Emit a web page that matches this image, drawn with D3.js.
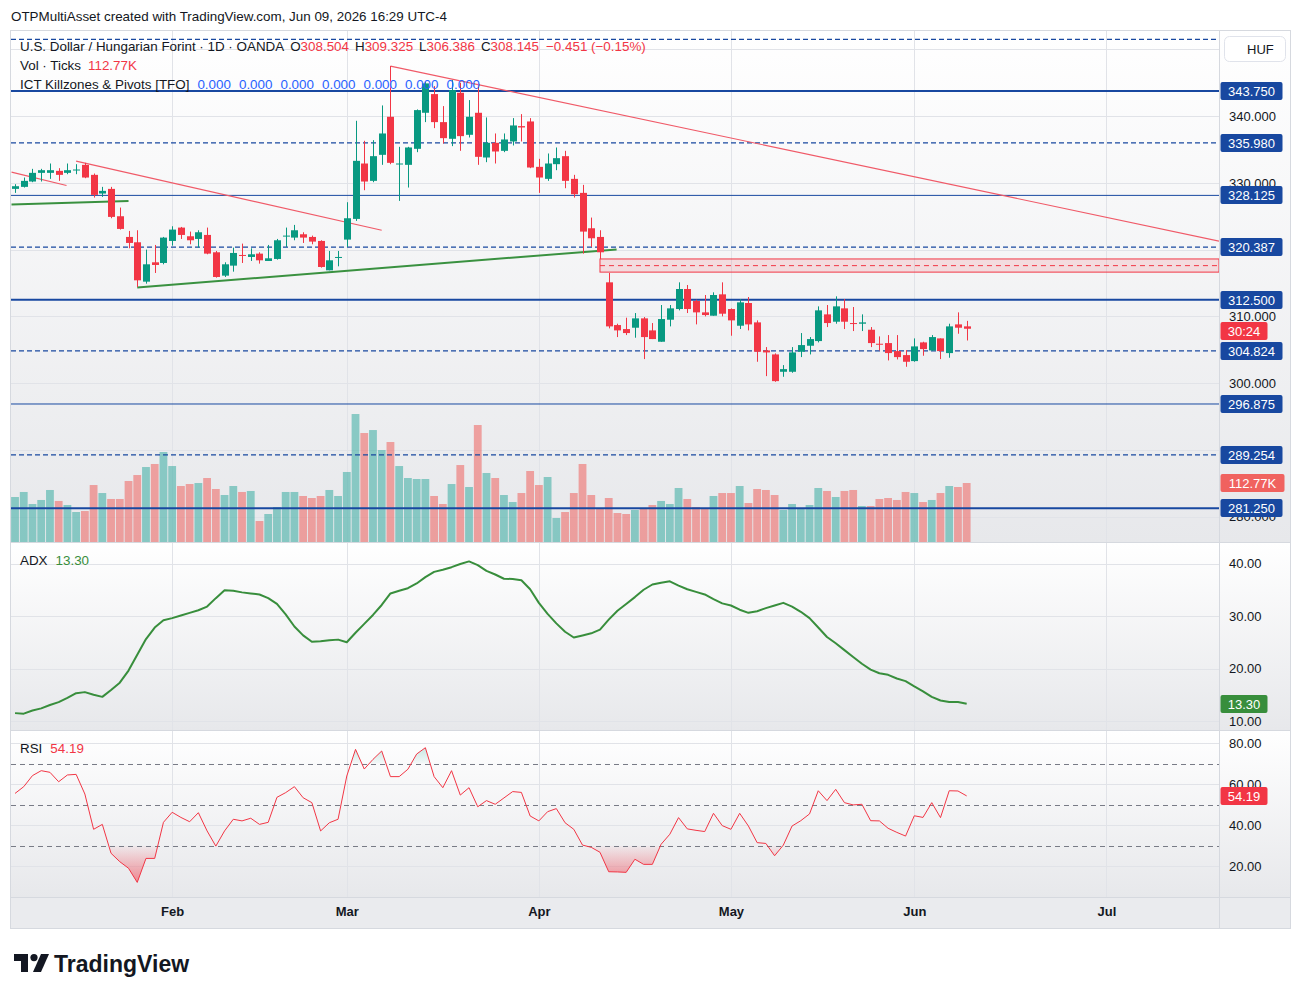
<!DOCTYPE html>
<html>
<head>
<meta charset="utf-8">
<title>USDHUF 1D</title>
<script src="https://cdn.jsdelivr.net/npm/d3@7"></script>
<style>
html,body{margin:0;padding:0;background:#ffffff;}
svg{display:block;font-family:"Liberation Sans",Arial,sans-serif;}
</style>
</head>
<body>
<svg id="chart" width="1302" height="997"></svg>
<script>
// ---- daily bars, Jan 07 2026 .. Jun 09 2026 (trading days) ----
var open  = [329.1,329.4,330.2,331.5,331.5,331.8,331.5,331.9,332.7,331.2,328.4,329.1,325.0,321.9,321.1,315.2,318.1,318.0,321.3,323.3,
             322.0,321.6,322.2,319.6,316.1,317.6,319.2,318.9,319.4,318.3,318.6,322.0,321.8,322.3,321.9,321.3,316.9,318.8,321.5,324.6,
             332.9,330.3,334.2,339.9,332.8,332.7,335.1,340.5,343.3,339.1,336.6,343.5,337.2,340.5,333.8,336.0,334.8,336.2,338.5,339.2,
             332.4,330.6,332.8,334.0,330.6,328.5,323.2,321.9,315.1,308.7,308.1,308.3,309.7,307.9,306.2,309.5,311.1,314.1,312.3,310.6,
             310.1,313.3,311.1,308.6,312.0,309.1,304.9,304.3,301.7,301.7,304.7,305.6,306.3,310.3,309.2,311.2,309.0,308.9,308.0,305.9,
             306.0,304.8,304.2,303.3,306.1,304.9,306.7,304.5,308.8,308.504];
var high  = [329.8,330.8,332.1,332.1,332.9,332.2,332.9,332.8,333.0,331.4,329.4,329.4,326.3,322.8,322.9,320.0,320.7,321.9,323.5,323.4,
             322.7,322.9,323.3,319.8,318.1,320.3,320.9,320.2,319.6,320.7,321.6,323.3,323.7,322.6,322.1,321.4,319.8,319.8,327.1,339.3,
             336.3,336.4,341.6,347.5,335.4,335.4,341.0,345.1,344.5,341.5,345.4,345.0,342.4,344.9,339.8,337.4,337.4,339.7,340.3,339.7,
             333.6,334.4,335.3,334.8,331.2,329.7,324.8,322.9,316.5,308.9,309.8,310.5,309.9,309.0,311.7,311.7,315.1,314.7,312.5,313.2,
             313.6,315.1,311.2,312.6,312.9,309.4,305.4,304.45,302.7,305.4,307.5,306.9,311.5,311.7,313.0,312.6,311.4,310.3,308.4,307.0,
             307.2,307.2,304.95,306.7,306.2,307.2,306.7,308.9,310.6,309.325];
var low   = [328.5,329.3,330.1,330.2,330.6,330.3,331.3,331.3,330.7,327.8,327.9,324.7,323.0,320.2,314.4,314.9,316.5,317.8,320.6,321.6,
             320.8,320.3,319.3,315.8,315.9,316.7,318.0,318.3,317.9,318.3,318.5,320.4,321.4,321.0,320.8,317.3,316.9,317.5,320.4,324.3,
             328.9,330.1,332.7,332.8,327.3,329.3,334.6,339.1,338.2,335.9,335.5,334.8,336.8,332.7,333.1,332.9,334.6,335.6,336.2,332.2,
             328.5,330.3,331.9,329.2,327.8,319.4,320.4,318.6,308.2,306.9,307.2,306.8,303.6,306.6,306.2,308.5,310.9,310.5,308.8,310.0,
             310.1,310.0,307.1,308.1,307.9,303.2,301.05,300.2,300.95,301.55,303.9,304.3,306.1,308.4,308.9,308.1,307.8,307.8,305.4,304.9,
             303.4,303.55,302.45,303.2,304.1,304.85,303.6,303.8,307.4,306.386];
var close = [329.5,330.3,331.5,331.9,331.9,331.2,331.9,332.0,330.8,328.2,328.8,324.9,323.1,321.0,315.4,317.8,317.7,321.8,323.0,322.2,
             321.4,322.6,319.4,315.9,317.8,319.5,319.1,319.3,318.4,318.7,321.4,322.1,322.9,321.8,321.2,317.4,318.4,318.9,324.7,333.3,
             330.2,334.0,337.4,333.0,332.9,335.3,340.9,344.9,339.1,336.7,343.9,337.0,339.9,333.9,336.0,334.7,336.5,338.6,338.3,332.3,
             330.8,332.9,333.7,330.3,328.3,322.7,321.7,319.6,308.5,307.9,307.5,309.7,306.9,306.6,309.6,311.2,314.1,311.1,310.6,310.2,
             313.2,310.4,309.4,312.1,308.8,304.7,304.6,300.3,302.1,304.6,305.7,306.6,310.9,309.0,311.5,309.2,308.9,309.1,306.0,305.8,
             304.5,303.9,303.2,305.5,305.1,306.9,304.8,308.5,308.3,308.145];
// volume in thousands of ticks
var volume = [86.0,95.6,72.6,80.3,99.4,78.4,70.7,57.3,59.2,108.9,93.6,82.2,82.2,116.6,128.0,143.3,149.1,172.0,145.2,107.0,
              110.8,112.7,122.3,101.3,89.8,107.0,95.6,97.5,40.1,53.5,66.9,95.6,95.6,87.9,84.1,87.9,99.4,87.9,133.8,244.6,
              208.3,214.0,175.8,191.1,145.2,122.3,120.4,120.4,87.9,72.6,110.8,147.1,105.1,223.6,131.9,122.3,89.8,76.4,93.6,135.7,
              108.9,124.2,45.9,57.3,93.6,149.1,89.8,65.0,84.1,55.4,53.5,61.2,65.0,70.7,78.4,72.6,103.2,82.2,66.9,65.0,
              87.9,93.6,93.6,107.0,74.5,101.3,99.4,89.8,61.2,72.6,65.0,70.7,103.2,97.5,86.0,97.5,99.4,68.8,68.8,82.2,
              84.1,80.3,95.6,93.6,76.4,80.3,93.6,107.0,105.1,112.77];
var adx = [11.5,11.4,12.0,12.4,13.05,13.6,14.4,15.3,15.5,15.0,14.6,15.9,17.3,19.6,22.6,25.6,27.8,29.2,29.6,30.1,
           30.6,31.1,31.8,33.4,34.9,34.8,34.5,34.3,34.1,33.4,32.3,30.3,28.0,26.3,25.1,25.2,25.4,25.5,25.0,26.8,
           28.5,30.2,32.1,34.3,34.8,35.3,36.2,37.4,38.4,38.8,39.3,39.9,40.4,39.7,38.6,37.9,37.1,37.05,36.8,35.1,
           32.5,30.4,28.6,27.0,25.9,26.3,26.7,27.4,29.3,31.0,32.3,33.6,35.0,36.0,36.35,36.6,35.8,35.1,34.6,34.1,
           33.2,32.4,32.0,31.2,30.6,30.9,31.5,32.0,32.5,31.8,30.8,29.6,27.8,26.0,24.8,23.5,22.2,20.9,19.8,19.1,
           18.8,18.1,17.6,16.6,15.65,14.6,13.9,13.6,13.6,13.30];
var rsi = [55.4,58.7,64.1,66.5,65.7,61.1,64.4,64.7,55.1,37.9,40.3,26.2,22.1,18.9,12.0,23.7,23.7,41.3,46.2,43.7,
           41.6,46.0,37.1,29.7,37.1,42.8,42.0,43.3,40.3,41.3,53.5,55.8,58.7,53.3,50.9,37.1,41.1,42.8,63.9,76.9,
           67.3,72.0,76.1,63.6,63.6,67.2,74.6,77.7,63.6,58.2,66.5,54.6,58.2,48.9,51.9,50.1,53.2,56.3,55.9,44.4,
           42.0,46.5,48.0,41.1,37.9,30.2,29.1,26.7,17.2,17.1,16.9,23.3,20.8,20.8,30.6,35.5,43.6,38.1,37.4,36.8,
           45.7,39.7,37.9,45.7,39.5,31.4,31.0,25.0,30.2,39.5,42.1,45.4,56.7,51.9,57.4,50.9,49.8,50.1,42.1,42.0,
           38.4,36.4,34.6,44.5,43.7,50.9,43.6,56.7,56.6,54.19];

// pivot levels of the ICT indicator
var majorLevels  = [343.75, 312.5, 281.25];
var minorLevels  = [328.125, 296.875];
var dashedLevels = [351.5, 335.98, 320.387, 304.824, 289.254];
// drawings: [bar index, price]
var redTrends   = [[[43, 347.5], [137.9, 321.27]], [[7, 333.26], [42, 322.9]], [[-0.4, 331.6], [5.9, 329.6]]];
var greenTrends = [[[-0.4, 326.77], [13, 327.3]], [[14, 314.34], [68.9, 320.03]]];
var zoneStart = 67, zoneTop = 318.6, zoneMid = 317.6, zoneBottom = 316.63;

var priceGrid  = [280, 290, 300, 310, 320, 330, 340, 350];
var priceTicks = [280, 290, 300, 310, 330, 340];   // the others sit under level tags / the HUF button
var adxTicks = [10, 20, 30, 40];
var rsiTicks = [20, 40, 60, 80];
var rsiBands = [70, 50, 30];
var monthLabels = ["Feb", "Mar", "Apr", "May", "Jun", "Jul"];

// trading day calendar (Mon-Fri) starting at the first bar
var days = [];
(function(){
  var d = new Date(2026, 0, 7);
  while (days.length < 140) {
    var w = d.getDay();
    if (w !== 0 && w !== 6) days.push(new Date(d));
    d.setDate(d.getDate() + 1);
  }
})();
var fmtMonth = d3.timeFormat("%b");
var monthIdx = [];
days.forEach(function(d, i){
  if (i > 0 && d.getMonth() !== days[i-1].getMonth() && monthLabels.indexOf(fmtMonth(d)) >= 0) monthIdx.push(i);
});

var svg = d3.select("#chart");
var plotL = 11, plotR = 1219, axisR = 1290;
var mainTop = 30, mainBot = 542, adxTop = 543, adxBot = 730, rsiTop = 731, rsiBot = 897, timeBot = 928;
var UP = "#089981", DOWN = "#f23645", BLUE = "#1848a0", TXT = "#131722";
var LEG = 13.4;

var x  = d3.scaleLinear().domain([-0.46, 137.9]).range([plotL, plotR]);
var yP = d3.scaleLinear().domain([276.2, 352.9]).range([mainBot, mainTop]);
var yV = d3.scaleLinear().domain([0, 112.77]).range([mainBot, 483]);
var yA = d3.scaleLinear().domain([10, 40]).range([721, 563.5]);
var yR = d3.scaleLinear().domain([20, 80]).range([866, 743]);

var defs = svg.append("defs");
var bg = defs.append("linearGradient").attr("id", "paneBg").attr("x1", 0).attr("y1", 0).attr("x2", 0).attr("y2", 1);
bg.append("stop").attr("offset", "0%").attr("stop-color", "#ffffff");
bg.append("stop").attr("offset", "100%").attr("stop-color", "#e7e8eb");

function clip(id, y0, y1){
  defs.append("clipPath").attr("id", id).append("rect")
    .attr("x", plotL).attr("y", y0).attr("width", plotR - plotL).attr("height", y1 - y0);
}
clip("cMain", mainTop, mainBot);
clip("cAdx", adxTop, adxBot);
clip("cRsi", rsiTop, rsiBot);
clip("cOs", yR(30), rsiBot);
clip("cOb", rsiTop, yR(70));

var osGrad = defs.append("linearGradient").attr("id", "osGrad").attr("gradientUnits", "userSpaceOnUse")
  .attr("x1", 0).attr("x2", 0).attr("y1", yR(30)).attr("y2", yR(10));
osGrad.append("stop").attr("offset", "0%").attr("stop-color", DOWN).attr("stop-opacity", 0.03);
osGrad.append("stop").attr("offset", "100%").attr("stop-color", DOWN).attr("stop-opacity", 0.6);
var obGrad = defs.append("linearGradient").attr("id", "obGrad").attr("gradientUnits", "userSpaceOnUse")
  .attr("x1", 0).attr("x2", 0).attr("y1", yR(70)).attr("y2", yR(90));
obGrad.append("stop").attr("offset", "0%").attr("stop-color", UP).attr("stop-opacity", 0.03);
obGrad.append("stop").attr("offset", "100%").attr("stop-color", UP).attr("stop-opacity", 0.5);

// pane backgrounds
[[mainTop, mainBot], [adxTop, adxBot], [rsiTop, rsiBot]].forEach(function(p){
  svg.append("rect").attr("x", plotL).attr("y", p[0]).attr("width", axisR - plotL).attr("height", p[1] - p[0])
    .attr("fill", "url(#paneBg)");
});
svg.append("rect").attr("x", plotL).attr("y", rsiBot).attr("width", axisR - plotL).attr("height", timeBot - rsiBot)
  .attr("fill", "#eaebee");

// grid
var grid = svg.append("g").attr("stroke", "#e1e3e8").attr("stroke-width", 1);
monthIdx.forEach(function(i){
  var gx = Math.round(x(i)) + 0.5;
  [[mainTop, mainBot], [adxTop, adxBot], [rsiTop, rsiBot]].forEach(function(p){
    grid.append("line").attr("x1", gx).attr("x2", gx).attr("y1", p[0]).attr("y2", p[1]);
  });
});
priceGrid.forEach(function(v){
  var gy = Math.round(yP(v)) + 0.5;
  grid.append("line").attr("x1", plotL).attr("x2", plotR).attr("y1", gy).attr("y2", gy);
});
adxTicks.forEach(function(v){
  var gy = Math.round(yA(v)) + 0.5;
  grid.append("line").attr("x1", plotL).attr("x2", plotR).attr("y1", gy).attr("y2", gy);
});
rsiTicks.forEach(function(v){
  var gy = Math.round(yR(v)) + 0.5;
  grid.append("line").attr("x1", plotL).attr("x2", plotR).attr("y1", gy).attr("y2", gy);
});

// ---- main pane ----
var main = svg.append("g").attr("clip-path", "url(#cMain)");

main.append("g").selectAll("rect").data(volume).join("rect")
  .attr("x", function(d, i){ return x(i) - 3.9; })
  .attr("width", 7.8)
  .attr("y", function(d){ return yV(d); })
  .attr("height", function(d){ return mainBot - yV(d); })
  .attr("fill", function(d, i){ return close[i] >= open[i] ? "rgba(38,166,154,0.5)" : "rgba(239,83,80,0.5)"; });

function levelLine(vals, width, dash){
  main.append("g").selectAll("line").data(vals).join("line")
    .attr("x1", plotL).attr("x2", plotR)
    .attr("y1", function(d){ return yP(d); }).attr("y2", function(d){ return yP(d); })
    .attr("stroke", BLUE).attr("stroke-width", width)
    .attr("stroke-dasharray", dash);
}
levelLine(majorLevels, 2, null);
levelLine(minorLevels, 1, null);
levelLine(dashedLevels, 1.2, "5,3");

// supply zone
main.append("rect")
  .attr("x", x(zoneStart)).attr("y", yP(zoneTop))
  .attr("width", plotR - x(zoneStart)).attr("height", yP(zoneBottom) - yP(zoneTop))
  .attr("fill", "rgba(242,54,69,0.13)").attr("stroke", DOWN).attr("stroke-width", 1);
main.append("line")
  .attr("x1", x(zoneStart)).attr("x2", plotR).attr("y1", yP(zoneMid)).attr("y2", yP(zoneMid))
  .attr("stroke", DOWN).attr("stroke-width", 1).attr("stroke-dasharray", "5,4");

// trend lines
var seg = d3.line().x(function(d){ return x(d[0]); }).y(function(d){ return yP(d[1]); });
redTrends.forEach(function(t){
  main.append("path").attr("d", seg(t)).attr("fill", "none").attr("stroke", "#f05a68").attr("stroke-width", 1.2);
});
greenTrends.forEach(function(t){
  main.append("path").attr("d", seg(t)).attr("fill", "none").attr("stroke", "#3a9140").attr("stroke-width", 2);
});

// candles
var candles = main.append("g").selectAll("g").data(open).join("g")
  .attr("fill", function(d, i){ return close[i] >= open[i] ? UP : DOWN; })
  .attr("stroke", function(d, i){ return close[i] >= open[i] ? UP : DOWN; });
candles.append("line")
  .attr("x1", function(d, i){ return Math.round(x(i)) + 0.5; })
  .attr("x2", function(d, i){ return Math.round(x(i)) + 0.5; })
  .attr("y1", function(d, i){ return yP(high[i]); })
  .attr("y2", function(d, i){ return yP(low[i]); })
  .attr("stroke-width", 1);
candles.append("rect")
  .attr("stroke", "none")
  .attr("x", function(d, i){ return Math.round(x(i)) - 3; })
  .attr("width", 7)
  .attr("y", function(d, i){ return yP(Math.max(open[i], close[i])); })
  .attr("height", function(d, i){ return Math.max(1, Math.abs(yP(open[i]) - yP(close[i]))); });

// ---- ADX pane ----
var adxG = svg.append("g").attr("clip-path", "url(#cAdx)");
adxG.append("path")
  .attr("d", d3.line().x(function(d, i){ return x(i); }).y(function(d){ return yA(d); })(adx))
  .attr("fill", "none").attr("stroke", "#388e3c").attr("stroke-width", 2).attr("stroke-linejoin", "round");

// ---- RSI pane ----
var rsiG = svg.append("g").attr("clip-path", "url(#cRsi)");
rsiG.append("g").attr("clip-path", "url(#cOs)").append("path")
  .attr("d", d3.area().x(function(d, i){ return x(i); }).y0(yR(30)).y1(function(d){ return yR(d); })(rsi))
  .attr("fill", "url(#osGrad)");
rsiG.append("g").attr("clip-path", "url(#cOb)").append("path")
  .attr("d", d3.area().x(function(d, i){ return x(i); }).y0(yR(70)).y1(function(d){ return yR(d); })(rsi))
  .attr("fill", "url(#obGrad)");
rsiG.append("g").selectAll("line").data(rsiBands).join("line")
  .attr("x1", plotL).attr("x2", plotR)
  .attr("y1", function(d){ return Math.round(yR(d)) + 0.5; }).attr("y2", function(d){ return Math.round(yR(d)) + 0.5; })
  .attr("stroke", "#787b86").attr("stroke-width", 1).attr("stroke-dasharray", "5,4");
rsiG.append("path")
  .attr("d", d3.line().x(function(d, i){ return x(i); }).y(function(d){ return yR(d); })(rsi))
  .attr("fill", "none").attr("stroke", DOWN).attr("stroke-width", 1);

// ---- separators and frame ----
var frame = svg.append("g").attr("stroke", "#d6d9df").attr("stroke-width", 1).attr("fill", "none");
frame.append("line").attr("x1", 10).attr("x2", axisR + 1).attr("y1", mainBot + 0.5).attr("y2", mainBot + 0.5);
frame.append("line").attr("x1", 10).attr("x2", axisR + 1).attr("y1", adxBot + 0.5).attr("y2", adxBot + 0.5);
frame.append("line").attr("x1", 10).attr("x2", axisR + 1).attr("y1", rsiBot + 0.5).attr("y2", rsiBot + 0.5);
frame.append("line").attr("x1", plotR + 0.5).attr("x2", plotR + 0.5).attr("y1", mainTop).attr("y2", timeBot);
frame.append("rect").attr("x", 10.5).attr("y", mainTop + 0.5).attr("width", axisR - 10).attr("height", timeBot - mainTop);

// ---- axes ----
function styleAxis(g){
  g.select(".domain").remove();
  g.selectAll("line").remove();
  g.selectAll("text").attr("fill", TXT).attr("font-size", 13).attr("font-family", '"Liberation Sans",Arial,sans-serif');
}
svg.append("g").attr("transform", "translate(1229,0)")
  .call(d3.axisRight(yP).tickValues(priceTicks).tickFormat(d3.format(".3f")).tickSize(0).tickPadding(0))
  .call(styleAxis);
svg.append("g").attr("transform", "translate(1229,0)")
  .call(d3.axisRight(yA).tickValues(adxTicks).tickFormat(d3.format(".2f")).tickSize(0).tickPadding(0))
  .call(styleAxis);
svg.append("g").attr("transform", "translate(1229,0)")
  .call(d3.axisRight(yR).tickValues(rsiTicks).tickFormat(d3.format(".2f")).tickSize(0).tickPadding(0))
  .call(styleAxis);
svg.append("g").attr("transform", "translate(0," + rsiBot + ")")
  .call(d3.axisBottom(x).tickValues(monthIdx).tickFormat(function(d){ return fmtMonth(days[d]); }).tickSize(0).tickPadding(10))
  .call(styleAxis)
  .selectAll("text").attr("font-weight", "bold");

// ---- price scale labels ----
function tag(yc, txt, fill, w){
  var g = svg.append("g");
  g.append("rect").attr("x", 1220.5).attr("y", Math.round(yc) - 9).attr("width", w).attr("height", 18).attr("rx", 2).attr("fill", fill);
  g.append("text").attr("x", 1220.5 + w / 2).attr("y", Math.round(yc)).attr("dy", "0.35em").attr("text-anchor", "middle")
    .attr("fill", "#ffffff").attr("font-size", 13).text(txt);
}
majorLevels.concat(minorLevels, dashedLevels).forEach(function(v){
  if (v < 350) tag(yP(v), d3.format(".3f")(v), BLUE, 62);
});
var last = close.length - 1;
tag(yP(close[last]) + 2, "30:24", DOWN, 47);
tag(yV(volume[last]), d3.format(".2f")(volume[last]) + "K", "#f0625f", 64);
tag(yA(adx[last]), d3.format(".2f")(adx[last]), "#388e3c", 47);
tag(yR(rsi[last]), d3.format(".2f")(rsi[last]), DOWN, 47);

// currency button
svg.append("rect").attr("x", 1224.5).attr("y", 36.5).attr("width", 61).attr("height", 25).attr("rx", 5)
  .attr("fill", "#ffffff").attr("stroke", "#e0e3eb");
svg.append("text").attr("x", 1247).attr("y", 49).attr("dy", "0.35em").attr("fill", TXT).attr("font-size", 13).text("HUF");

// ---- legend texts ----
svg.append("text").attr("x", 11).attr("y", 21).attr("fill", TXT).attr("font-size", LEG)
  .text("OTPMultiAsset created with TradingView.com, Jun 09, 2026 16:29 UTC-4");

var fmt3 = d3.format(".3f");
var l1 = svg.append("text").attr("x", 20).attr("y", 51).attr("font-size", LEG).attr("fill", TXT);
l1.append("tspan").text("U.S. Dollar / Hungarian Forint · 1D · OANDA");
[["O", open[last]], ["H", high[last]], ["L", low[last]], ["C", close[last]]].forEach(function(p){
  l1.append("tspan").attr("dx", 6).attr("fill", TXT).text(p[0]);
  l1.append("tspan").attr("fill", DOWN).text(fmt3(p[1]));
});
l1.append("tspan").attr("dx", 7).attr("fill", DOWN).text("−0.451 (−0.15%)");

var l2 = svg.append("text").attr("x", 20).attr("y", 70).attr("font-size", LEG).attr("fill", TXT);
l2.append("tspan").text("Vol · Ticks");
l2.append("tspan").attr("dx", 7).attr("fill", DOWN).text(d3.format(".2f")(volume[last]) + "K");

var pivotVals = [0, 0, 0, 0, 0, 0, 0];
var l3 = svg.append("text").attr("x", 20).attr("y", 89).attr("font-size", LEG).attr("fill", TXT);
l3.append("tspan").text("ICT Killzones & Pivots [TFO]");
pivotVals.forEach(function(v){
  l3.append("tspan").attr("dx", 8).attr("fill", "#2962ff").text(fmt3(v));
});

var la = svg.append("text").attr("x", 20).attr("y", 565).attr("font-size", LEG).attr("fill", TXT);
la.append("tspan").text("ADX");
la.append("tspan").attr("dx", 8).attr("fill", "#388e3c").text(d3.format(".2f")(adx[last]));

var lr = svg.append("text").attr("x", 20).attr("y", 753).attr("font-size", LEG).attr("fill", TXT);
lr.append("tspan").text("RSI");
lr.append("tspan").attr("dx", 8).attr("fill", DOWN).text(d3.format(".2f")(rsi[last]));

// ---- TradingView mark ----
var logo = svg.append("g").attr("transform", "translate(14,954)").attr("fill", TXT);
logo.append("path").attr("d", "M0 0 H14 V18 H7 V7 H0 Z");
logo.append("circle").attr("cx", 20).attr("cy", 3.6).attr("r", 3.6);
logo.append("path").attr("d", "M27 0 H35 L27 18 H19 Z");
svg.append("text").attr("x", 54).attr("y", 972).attr("font-size", 23).attr("font-weight", 600).attr("fill", TXT)
  .text("TradingView");
</script>
</body>
</html>
